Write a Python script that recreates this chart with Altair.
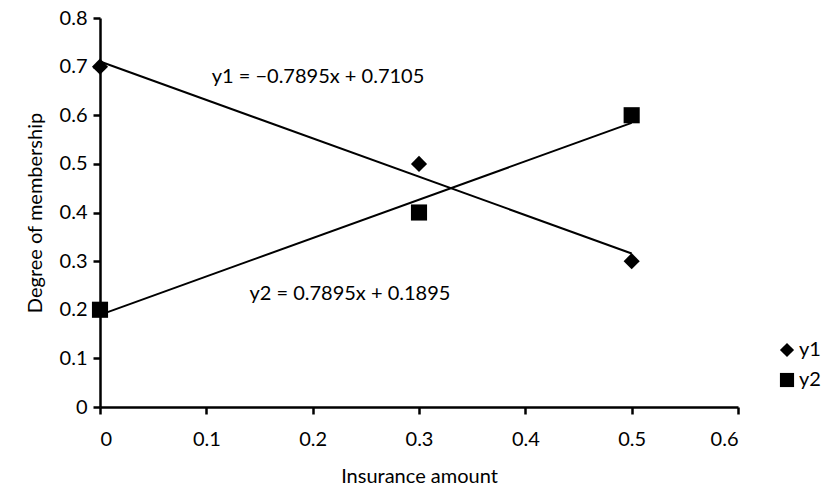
import altair as alt
import pandas as pd

# Observed membership values
x_vals = [0, 0.3, 0.5]
y1_vals = [0.7, 0.5, 0.3]
y2_vals = [0.2, 0.4, 0.6]

# Linear trendline coefficients (slope, intercept)
series_names = ["y1", "y2"]
slopes = [-0.7895, 0.7895]
intercepts = [0.7105, 0.1895]
trend_labels = ["y1 = \u22120.7895x + 0.7105", "y2 = 0.7895x + 0.1895"]
label_x = [0.205, 0.235]
label_y = [0.678, 0.232]

FONT = "Lato"
FS = 20

points = pd.DataFrame({
    "x": x_vals * 2,
    "y": y1_vals + y2_vals,
    "series": ["y1"] * len(x_vals) + ["y2"] * len(x_vals),
})

x_start, x_end = min(x_vals), max(x_vals)
trend = pd.DataFrame([
    {"series": s, "x": xv, "y": m * xv + b}
    for s, m, b in zip(series_names, slopes, intercepts)
    for xv in (x_start, x_end)
])

labels = pd.DataFrame({"x": label_x, "y": label_y, "text": trend_labels})

x_scale = alt.Scale(domain=[0, 0.6], nice=False, zero=False)
y_scale = alt.Scale(domain=[0, 0.8], nice=False)

x_axis = alt.Axis(
    title="Insurance amount", values=[0, 0.1, 0.2, 0.3, 0.4, 0.5, 0.6], format=".1~f",
    grid=False, domainColor="black", domainWidth=2.5, tickColor="black", tickWidth=2.5,
    tickSize=7, labelFont=FONT, labelFontSize=FS, labelColor="black", labelPadding=15,
    titleFont=FONT, titleFontSize=FS, titleFontWeight="normal", titleColor="black",
    titlePadding=17,
)
y_axis = alt.Axis(
    title="Degree of membership", values=[0, 0.1, 0.2, 0.3, 0.4, 0.5, 0.6, 0.7, 0.8], format=".1~f",
    grid=False, domainColor="black", domainWidth=2.5, tickColor="black", tickWidth=2.5,
    tickSize=7, labelFont=FONT, labelFontSize=FS, labelColor="black", labelPadding=6,
    titleFont=FONT, titleFontSize=FS, titleFontWeight="normal", titleColor="black",
    titlePadding=14,
)

lines = alt.Chart(trend).mark_line(color="black", strokeWidth=2).encode(
    x=alt.X("x:Q", scale=x_scale, axis=x_axis),
    y=alt.Y("y:Q", scale=y_scale, axis=y_axis),
    detail="series:N",
)

marks = alt.Chart(points).mark_point(filled=True, opacity=1, color="black", size=260).encode(
    x=alt.X("x:Q", scale=x_scale),
    y=alt.Y("y:Q", scale=y_scale),
    shape=alt.Shape(
        "series:N",
        scale=alt.Scale(domain=series_names, range=["diamond", "square"]),
        legend=alt.Legend(
            title=None, orient="none", legendX=677, legendY=322,
            labelFont=FONT, labelFontSize=FS, labelColor="black",
            symbolFillColor="black", symbolStrokeColor="black", symbolSize=200,
            symbolOpacity=1, rowPadding=8, labelOffset=2,
        ),
    ),
)

texts = alt.Chart(labels).mark_text(font=FONT, fontSize=FS, color="black").encode(
    x=alt.X("x:Q", scale=x_scale),
    y=alt.Y("y:Q", scale=y_scale),
    text="text:N",
)

chart = alt.layer(lines, marks, texts).properties(
    width=638, height=389,
    background="white",
    autosize=alt.AutoSizeParams(type="none"),
    padding={"left": 100, "top": 18, "right": 100, "bottom": 83},
).configure_view(stroke=None)

chart.save("out.html", embed_options={"renderer": "svg", "actions": False})
